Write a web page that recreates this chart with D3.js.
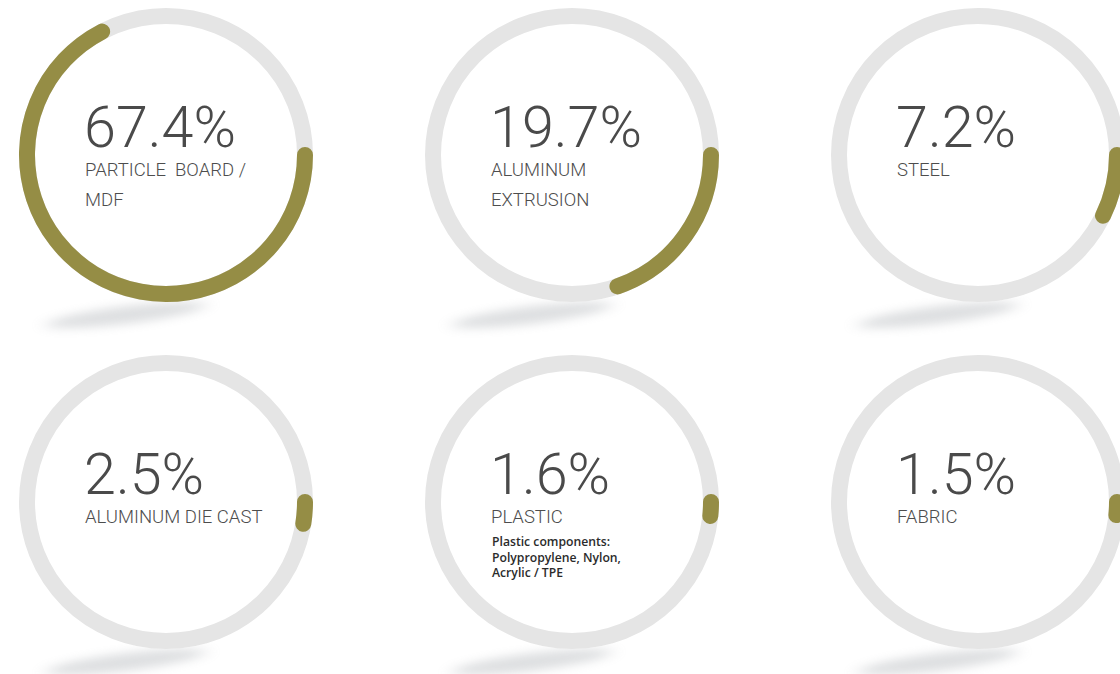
<!DOCTYPE html>
<html><head><meta charset="utf-8">
<script src="https://cdn.jsdelivr.net/npm/d3@7"></script>
<style>html,body{margin:0;padding:0;background:#fff;overflow:hidden}</style>
</head><body>
<svg id="chart" width="1120" height="674"></svg>
<script>
const values = [67.4, 19.7, 7.2, 2.5, 1.6, 1.5];
const labelLine1 = ["PARTICLE  BOARD /", "ALUMINUM", "STEEL", "ALUMINUM DIE CAST", "PLASTIC", "FABRIC"];
const labelLine2 = ["MDF", "EXTRUSION", "", "", "", ""];
const notes = [[], [], [], [], ["Plastic components:", "Polypropylene, Nylon,", "Acrylic / TPE"], []];

const svg = d3.select("#chart");
const colX = d3.scalePoint().domain([0,1,2]).range([166, 978]);
const rowY = d3.scalePoint().domain([0,1]).range([155, 502]);
const angle = d3.scaleLinear().domain([0, 100]).range([0, 2 * Math.PI]);
const R = 139, W = 16;

const defs = svg.append("defs");
const f = defs.append("filter").attr("id","blur").attr("x","-50%").attr("y","-300%").attr("width","200%").attr("height","700%");
f.append("feGaussianBlur").attr("stdDeviation", "9 5");

values.forEach((v, i) => {
  const cx = colX(i % 3), cy = rowY(Math.floor(i / 3));
  const g = svg.append("g");
  // shadow
  const sx = cx - 40, sy = cy + 160;
  g.append("ellipse").attr("cx", sx).attr("cy", sy).attr("rx", 80).attr("ry", 9)
    .attr("transform", `rotate(-7 ${sx} ${sy})`)
    .attr("fill", "#9a9fa4").attr("opacity", 0.32).attr("filter", "url(#blur)");
  // white disk to cover shadow inside
  g.append("circle").attr("cx", cx).attr("cy", cy).attr("r", R + W/2).attr("fill", "#fff");
  g.append("circle").attr("cx", cx).attr("cy", cy).attr("r", R)
    .attr("fill", "none").attr("stroke", "#e5e5e5").attr("stroke-width", W);
  const p = d3.path();
  p.arc(cx, cy, R, angle(0), angle(v));
  g.append("path").attr("d", p.toString()).attr("fill", "none")
    .attr("stroke", "#958d45").attr("stroke-width", W).attr("stroke-linecap", "round");
  const tx = cx - 82;
  g.append("text").attr("x", tx).attr("y", cy - 8)
    .attr("font-family", "Roboto, sans-serif").attr("font-weight", 300).attr("font-size", 57.5)
    .attr("fill", "#4a4a4a").text(v.toFixed(1) + "%");
  g.append("text").attr("x", tx + 1).attr("y", cy + 21)
    .attr("font-family", "Roboto, sans-serif").attr("font-weight", 300).attr("font-size", 18.5)
    .attr("fill", "#4d4d4d").style("white-space","pre").text(labelLine1[i]);
  if (labelLine2[i]) g.append("text").attr("x", tx + 1).attr("y", cy + 51)
    .attr("font-family", "Roboto, sans-serif").attr("font-weight", 300).attr("font-size", 18.5)
    .attr("fill", "#4d4d4d").text(labelLine2[i]);
  notes[i].forEach((n, k) => {
    g.append("text").attr("x", tx + 2).attr("y", cy + 44 + k * 15.5)
      .attr("font-family", "'Open Sans', sans-serif").attr("font-weight", 600).attr("font-size", 12.2)
      .attr("fill", "#2b2b2b").text(n);
  });
});
</script>
</body></html>
